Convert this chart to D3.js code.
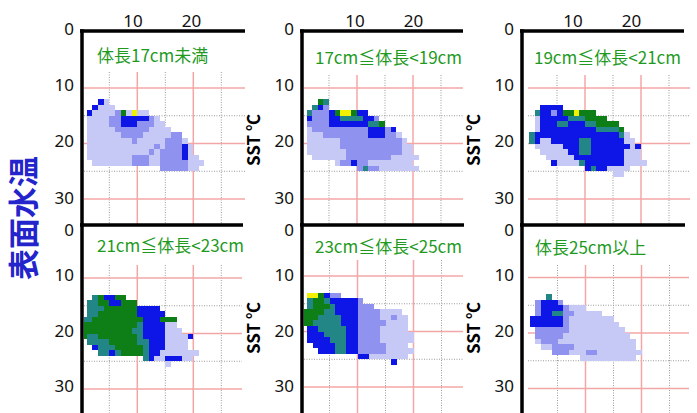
<!DOCTYPE html>
<html>
<head>
<meta charset="utf-8">
<script src="https://cdn.jsdelivr.net/npm/d3@7"></script>
<style>
  body { margin: 0; background: #fff; }
  svg { display: block; }
</style>
</head>
<body>
<svg id="chart" width="697" height="413"></svg>
<script>
// Panel titles (body-length classes)
const titles = ["体長17cm未満", "17cm≦体長<19cm", "19cm≦体長<21cm",
                "21cm≦体長<23cm", "23cm≦体長<25cm", "体長25cm以上"];
const yTicks = [0, 10, 20, 30];
const xTicks = [10, 20];
const majorGrid = [10, 20, 30];
const minorGrid = [5, 15, 25];
const axisLabel = "SST ℃";
const sideLabel = "表面水温";

// Frequency classes, lightest to strongest
const levelKeys = ["a", "b", "B", "T", "G", "Y"];
const levelColors = ["#c6c8f6", "#8f92ee", "#0a14e6", "#238687", "#117f16", "#f2f200"];

// Cell grids: one string per 1-unit row, one character per 1-unit column ('.' = no data)
const firstRow = [12, 12, 13, 13, 13, 13];
const rowsLt17 = [
  "...Ba",
  "..Baaa",
  ".BaaaabGaYaa",
  ".aaaabbBBBBBba",
  ".aaaabbBBBbbbaa",
  ".aaaaabbbbbbaaaa",
  ".aaaaaabbbbaaaaabb",
  ".aaaaaaaabaaaaabbba",
  ".aaaaaaaaaaaababbbBa",
  ".aaaaaaaaaaababbbbBa",
  ".aaaaaaaabbbaabbbbBaa",
  "..aaaaaaabbbaabbbbbaaa",
  "..............bbbbbaa"
];
const rows17to19 = [
  "...GT",
  "..TBb",
  ".TbbbBGYYGBB",
  ".BbbbBBTTTTBBb",
  ".bbbbBBBBBBBTTG",
  ".abbbbbbbbbbBBBbB",
  ".aaabbbbbbbbBBBbba",
  ".aaaaaabbbbbbbbbbba",
  ".aaaaaabbbbbbbbbbbaa",
  ".aaaaaaabbbbbbbbbbaa",
  "..aaaaaabbbbbbbbaaaaa",
  "......abbBbbaaaaaaaa",
  "..........bTbbaaaaaaa"
];
const rows19to21 = [
  "..BBBB",
  ".TBBbBGGYGGG",
  ".aBBBBBTTTGGGG",
  ".aBBBTTBBBTTGGGG",
  ".aBBBBBBBBBBTTTTG",
  "TBBBBBBBBBBBBBBBTa",
  "TBaaBBBBBTTBBBBBBaa",
  ".aaaaaBBBTTBBBBBBBaB",
  "..aaaaaBBTTBBBBBBaaa",
  "...aaaaaBBBBBBBBBaaa",
  "....BaaaaTBBBBBBBaaaa",
  "..........BTBBaaaa",
  "...............aa"
];
const rows21to23 = [
  "..TGBBGG",
  ".TTGGBBGGG",
  ".TTTGGGGGGBBBB",
  ".TTGGGGGGGBBBBB",
  "TTGGGGGGGGGBBBGGG",
  "GGGGGGGGGGTBBBBaa",
  "GGGGGGGGGTTBBBBaaa",
  "GTTGGGGGGGTBBBBaaaaB",
  ".TTTTGGGGGTTBBBaaaa",
  "..BTTTGGGGGTBBBaaaa",
  "...TTBTGGGGTBBaaaaaaa",
  "...........TBaaBBBaa",
  "...............a"
];
const rows23to25 = [
  ".YYGBbb",
  ".TGGTBBBBBb",
  ".TGGGTBBBBbbb",
  "GGGGTTBBBBbbbbaaaa",
  "GGGTTTTBBBbbbbaabaa",
  "GGTTTTTBBBbbbbbaaaa",
  ".BBTTTTTBBbbbbaaaaa",
  ".BBBTTTTBBbbbbaaaaaa",
  ".BBBBTTTBBbbbbaaaaaa",
  "..BBBBTTBBbbbbbaaaa",
  "...BBBTTBBbbbbbaaaaa",
  "..........BBaaaaaaa",
  "................B"
];
const rowsGe25 = [
  "...T",
  ".bBBBb",
  ".bBBBBbaaa",
  ".bBBTTbbaaaaa",
  "BBBBBBbaaaaaaaa",
  "BBBBBBbaaaaaaaaa",
  ".bbbbbbaaaaaaaaaa",
  ".bbbbbaaaaaaaaaaaa",
  ".abbbaaaaaaaaaaaaaa",
  "..aabbbbaaaaaaaaaaa",
  "....bbbaaabbaaaaaaaa",
  ".........aaaaaaaaaa"
];
const panelRows = [rowsLt17, rows17to19, rows19to21, rows21to23, rows23to25, rowsGe25];

// Page layout of the six panels
const UNIT_X = 5.6, UNIT_Y = 5.55;
const panels = [
  {ax: 82,  ay: 31,  lineL: 80,  lineR: 245, right: 245, bottom: 225, gx: 81.3,  gy: 32.5,  plotL: 84,  gridTop: 72,  tx: 97,  ty: 62,  top: true, xt0: 74.5},
  {ax: 302, ay: 31,  lineL: 300, lineR: 463, right: 463, bottom: 225, gx: 301,   gy: 32.5,  plotL: 304, gridTop: 75,  tx: 315, ty: 64,  top: true, xt0: 296.5},
  {ax: 522, ay: 31,  lineL: 520, lineR: 684, right: 690, bottom: 225, gx: 529,   gy: 32.5,  plotL: 528, gridTop: 75,  tx: 534, ty: 64,  top: true, xt0: 514.5},
  {ax: 82,  ay: 225, lineL: 80,  lineR: 243, right: 242, bottom: 413, gx: 81.3,  gy: 222.5, plotL: 84,  gridTop: 265, tx: 97,  ty: 252, top: false},
  {ax: 302, ay: 225, lineL: 300, lineR: 464, right: 463, bottom: 413, gx: 301.5, gy: 220.5, plotL: 304, gridTop: 260, tx: 315, ty: 253, top: false},
  {ax: 522, ay: 225, lineL: 520, lineR: 685, right: 689, bottom: 413, gx: 529.5, gy: 222,   plotL: 528, gridTop: 265, tx: 535, ty: 254, top: false}
];

const color = d3.scaleOrdinal().domain(levelKeys).range(levelColors);
const svg = d3.select("#chart");
const numFont = "'Noto Sans', 'DejaVu Sans', sans-serif";
const cjkFont = "'Noto Sans CJK JP', 'Noto Sans', sans-serif";

// slight softening of the cell raster
svg.append("defs").append("filter").attr("id", "soft")
  .attr("x", "-5%").attr("y", "-5%").attr("width", "110%").attr("height", "110%")
  .append("feGaussianBlur").attr("stdDeviation", 0.45);

panels.forEach((p, i) => {
  const g = svg.append("g");
  const x = d3.scaleLinear().domain([0, 1]).range([p.gx, p.gx + UNIT_X]);
  const y = d3.scaleLinear().domain([0, 1]).range([p.gy, p.gy + UNIT_Y]);

  const clipId = "clip" + i;
  svg.append("clipPath").attr("id", clipId)
    .append("rect")
    .attr("x", p.plotL).attr("y", p.gridTop)
    .attr("width", p.right - p.plotL).attr("height", p.bottom - p.gridTop);

  const grid = g.append("g").attr("clip-path", `url(#${clipId})`);
  // minor dotted grid
  grid.selectAll(".vmin").data(minorGrid).join("line")
    .attr("x1", d => x(d)).attr("x2", d => x(d))
    .attr("y1", p.gridTop).attr("y2", p.bottom)
    .attr("stroke", "#9a9a9a").attr("stroke-width", 1).attr("stroke-dasharray", "1,1.5");
  grid.selectAll(".hmin").data(minorGrid).join("line")
    .attr("y1", d => y(d)).attr("y2", d => y(d))
    .attr("x1", p.plotL).attr("x2", p.right)
    .attr("stroke", "#9a9a9a").attr("stroke-width", 1).attr("stroke-dasharray", "1,1.5");
  // major red grid
  grid.selectAll(".vmaj").data(majorGrid).join("line")
    .attr("x1", d => x(d)).attr("x2", d => x(d))
    .attr("y1", p.gridTop).attr("y2", p.bottom)
    .attr("stroke", "#f4a6a6").attr("stroke-width", 1.5);
  grid.selectAll(".hmaj").data(majorGrid).join("line")
    .attr("y1", d => y(d)).attr("y2", d => y(d))
    .attr("x1", p.plotL).attr("x2", p.right)
    .attr("stroke", "#f4a6a6").attr("stroke-width", 1.5);

  // heat cells
  const cells = [];
  panelRows[i].forEach((row, k) => {
    [...row].forEach((ch, c) => {
      if (ch !== ".") cells.push({col: c, row: firstRow[i] + k, level: ch});
    });
  });
  grid.append("g").attr("shape-rendering", "crispEdges").attr("filter", "url(#soft)")
    .selectAll("rect").data(cells).join("rect")
    .attr("x", d => Math.round(x(d.col)))
    .attr("y", d => Math.round(y(d.row)))
    .attr("width", d => Math.round(x(d.col + 1)) - Math.round(x(d.col)))
    .attr("height", d => Math.round(y(d.row + 1)) - Math.round(y(d.row)))
    .attr("fill", d => color(d.level));

  // frame: thick top and left lines
  g.append("line").attr("x1", p.lineL).attr("x2", p.lineR).attr("y1", p.ay).attr("y2", p.ay)
    .attr("stroke", "#000").attr("stroke-width", 3.5);
  g.append("line").attr("x1", p.ax).attr("x2", p.ax).attr("y1", p.ay - 1.7).attr("y2", p.bottom)
    .attr("stroke", "#000").attr("stroke-width", 3.5);

  // y tick labels
  const yl = p.top
    ? d3.scaleLinear().domain([0, 30]).range([28.5, 197.5])
    : d3.scaleLinear().domain([0, 30]).range([219.5, 386]);
  g.selectAll(".ytick").data(yTicks).join("text")
    .attr("x", p.ax - 8)
    .attr("y", d => Math.max(yl(d), p.top ? 0 : p.ay + 5))
    .attr("dy", "0.36em")
    .attr("text-anchor", "end")
    .attr("font-family", numFont).attr("font-size", 17).attr("fill", "#111")
    .text(d => d);

  // x tick labels on the top row
  if (p.top) {
    const xl = d3.scaleLinear().domain([0, 10]).range([p.xt0, p.xt0 + 58.5]);
    g.selectAll(".xtick").data(xTicks).join("text")
      .attr("x", d => xl(d)).attr("y", 21).attr("dy", "0.36em")
      .attr("text-anchor", "middle")
      .attr("font-family", numFont).attr("font-size", 17).attr("fill", "#111")
      .text(d => d);
  }

  // panel title
  g.append("text").attr("x", p.tx).attr("y", p.ty)
    .attr("font-family", cjkFont).attr("font-size", 17).attr("fill", "#1f9a1f")
    .text(titles[i]);

  // rotated axis title for inner columns
  if (p.ax > 200) {
    const cy = p.top ? 140 : 328;
    g.append("text")
      .attr("transform", `translate(${p.ax - 48},${cy}) rotate(-90)`)
      .attr("text-anchor", "middle").attr("dy", "0.36em")
      .attr("font-family", cjkFont).attr("font-weight", "bold").attr("font-size", 17).attr("fill", "#000")
      .text(axisLabel);
  }
});

// shared side label
svg.append("text")
  .attr("transform", "translate(24,218) rotate(-90)")
  .attr("text-anchor", "middle").attr("dy", "0.36em")
  .attr("font-family", cjkFont).attr("font-weight", "bold").attr("font-size", 31).attr("fill", "#2424cc")
  .text(sideLabel);
</script>
</body>
</html>
